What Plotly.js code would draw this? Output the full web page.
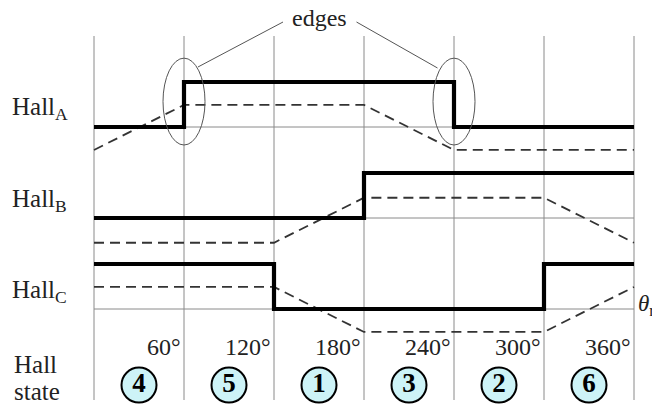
<!DOCTYPE html>
<html>
<head>
<meta charset="utf-8">
<script src="https://cdn.plot.ly/plotly-3.0.1.min.js"></script>
<style>html,body{margin:0;padding:0;background:#fff}#chart{width:652px;height:409px}</style>
</head>
<body>
<div id="chart"></div>
<script>
// ---- data ----
const angles = [0, 60, 120, 180, 240, 300, 360];
const hallA = [0, 1, 1, 1, 0, 0, 0];
const hallB = [0, 0, 0, 1, 1, 1, 1];
const hallC = [1, 1, 0, 0, 0, 1, 1];
const emfA = [-0.51, 0.49, 0.49, 0.49, -0.51, -0.51, -0.51];
const emfB = [-0.55, -0.55, -0.55, 0.45, 0.45, 0.45, -0.55];
const emfC = [0.49, 0.49, 0.49, -0.51, -0.51, -0.51, 0.49];
const tickAngles = [60, 120, 180, 240, 300, 360];
const tickLabels = ['60°', '120°', '180°', '240°', '300°', '360°'];
const stateCenters = [30, 90, 150, 210, 270, 330];
const hallStates = [4, 5, 1, 3, 2, 6];
const edgeAngles = [60, 240];
const rowNames = ['A', 'B', 'C'];

// ---- layout constants ----
const W = 652, H = 409;
const serif = '"Liberation Serif", "Times New Roman", serif';
const thick = {color: '#000', width: 4.2};
const dashed = {color: '#333', width: 1.8, dash: '10px,6px'};
const gridColor = '#8a8a8a';
const py = p => (H - p) / H; // paper y from pixel row

const traces = [];
[[hallA, emfA, 'y'], [hallB, emfB, 'y2'], [hallC, emfC, 'y3']].forEach(([d, e, ya]) => {
  traces.push({x: angles, y: e, yaxis: ya, mode: 'lines', line: dashed, hoverinfo: 'skip', showlegend: false});
  traces.push({x: angles, y: d, yaxis: ya, mode: 'lines', line: Object.assign({shape: 'hv'}, thick), hoverinfo: 'skip', showlegend: false});
});
// hall state circles
traces.push({
  x: stateCenters, y: stateCenters.map(() => -1.69), yaxis: 'y3',
  mode: 'markers+text',
  marker: {symbol: 'circle', size: 35, color: '#cdf3f7', line: {color: '#000', width: 2}},
  text: hallStates.map(String),
  textposition: 'middle center',
  textfont: {family: serif, size: 27, color: '#000', weight: 'bold'},
  hoverinfo: 'skip', showlegend: false
});

const shapes = [];
angles.forEach(a => shapes.push({type: 'line', xref: 'x', yref: 'paper', x0: a, x1: a, y0: py(400), y1: py(36), line: {color: gridColor, width: 1}, layer: 'below'}));
['y', 'y2', 'y3'].forEach(ya => shapes.push({type: 'line', xref: 'x', yref: ya, x0: 0, x1: 360, y0: 0, y1: 0, line: {color: gridColor, width: 1}, layer: 'below'}));
edgeAngles.forEach(a => shapes.push({type: 'circle', xref: 'x', yref: 'y', x0: a - 14, x1: a + 14, y0: -0.4, y1: 1.53, line: {color: '#555', width: 1}}));
// leader lines from "edges"
shapes.push({type: 'line', xref: 'x', yref: 'paper', x0: 126, x1: 69.3, y0: py(22), y1: py(67), line: {color: '#555', width: 1}});
shapes.push({type: 'line', xref: 'x', yref: 'paper', x0: 175, x1: 229, y0: py(22), y1: py(68), line: {color: '#555', width: 1}});

const ann = [];
const tf = (s) => ({family: serif, size: s, color: '#222'});
ann.push({text: 'edges', xref: 'x', yref: 'paper', x: 150, y: py(18), showarrow: false, font: tf(24), xanchor: 'center', yanchor: 'middle'});
rowNames.forEach((n, i) => ann.push({text: 'Hall<sub>' + n + '</sub>', xref: 'paper', yref: 'paper', x: 10 / W, y: py(109 + 91 * i), showarrow: false, font: tf(25), xanchor: 'left', yanchor: 'middle'}));
tickAngles.forEach((a, i) => ann.push({text: tickLabels[i], xref: 'x', yref: 'paper', x: a, xshift: -1, y: py(347), showarrow: false, font: tf(24), xanchor: 'right', yanchor: 'middle'}));
ann.push({text: 'Hall', xref: 'paper', yref: 'paper', x: 12 / W, y: py(364), showarrow: false, font: tf(25), xanchor: 'left', yanchor: 'middle'});
ann.push({text: 'state', xref: 'paper', yref: 'paper', x: 12 / W, y: py(391), showarrow: false, font: tf(25), xanchor: 'left', yanchor: 'middle'});
ann.push({text: '<i>θ</i><sub>r</sub>', xref: 'paper', yref: 'paper', x: 636 / W, y: py(305), showarrow: false, font: tf(23), xanchor: 'left', yanchor: 'middle'});

const axOff = {showgrid: false, zeroline: false, showticklabels: false, ticks: '', showline: false, fixedrange: true};
const layout = {
  width: W, height: H,
  margin: {l: 0, r: 0, t: 0, b: 0},
  paper_bgcolor: '#fff', plot_bgcolor: '#fff',
  showlegend: false,
  xaxis: Object.assign({range: [-94 / 1.5, (W - 94) / 1.5], domain: [0, 1]}, axOff),
  yaxis: Object.assign({range: [-(H - 127) / 45, 127 / 45], domain: [0, 1]}, axOff),
  yaxis2: Object.assign({range: [-(H - 218) / 45, 218 / 45], overlaying: 'y'}, axOff),
  yaxis3: Object.assign({range: [-(H - 309) / 45, 309 / 45], overlaying: 'y'}, axOff),
  shapes: shapes,
  annotations: ann
};
Plotly.newPlot('chart', traces, layout, {staticPlot: true, displayModeBar: false});
</script>
</body>
</html>
